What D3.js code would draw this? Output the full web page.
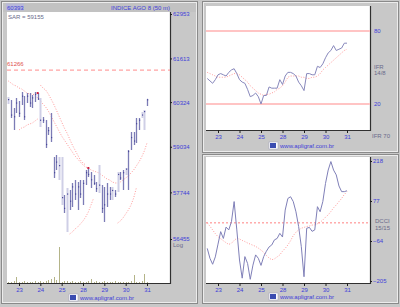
<!DOCTYPE html>
<html>
<head>
<meta charset="utf-8">
<script src="https://cdn.jsdelivr.net/npm/d3@7"></script>
<style>
body { margin: 0; background: #c8c8c8; }
svg { display: block; font-family: "Liberation Sans", Arial, sans-serif; }
</style>
</head>
<body>
<svg id="chart" width="400" height="307"></svg>
<script>
// one bar every 50 min, day labels sit on the first bar of each day
var days = ["23", "24", "25", "28", "29", "30", "31"];
var dayIndex = [4, 12, 20, 28, 36, 44, 52];

var highs = [60474, 60385, 60152, 60444, 60356, 60619, 60503, 60590, 60590, 60532, 60619, 60590, 60444, 59890, 59804, 59601, 60006, 58742, 58799, 58742,
	58742, 57671, 57867, 57811, 58007, 58091, 58035, 58091, 58091, 58373, 58430, 58317, 58232, 58035, 58515, 57951, 57895, 58007, 57895, 57895,
	57811, 58317, 58317, 58373, 58430, 58941, 59457, 59457, 59861, 59861, 60035, 60094, 60420];
var lows = [60268, 59861, 59515, 60006, 59890, 60239, 59804, 60297, 60181, 60152, 60327, 60385, 59601, 59717, 58998, 59371, 59170, 58148, 58373, 58091,
	57392, 57170, 56647, 57253, 57336, 57531, 57253, 57587, 57392, 57951, 58176, 57867, 57951, 57755, 57727, 57170, 56922, 57336, 57531, 57531,
	57615, 57755, 58091, 57811, 58232, 57811, 58941, 59084, 59141, 59515, 59861, 59515, 60210];
var closes = [60400, 59950, 59900, 60300, 60000, 60500, 59900, 60500, 60300, 60450, 60550, 60420, 59800, 59800, 59100, 59500, 59300, 58300, 58600, 58500,
	57600, 57300, 57700, 57500, 57900, 57700, 57900, 57700, 58000, 58300, 58250, 58100, 58000, 57850, 57950, 57300, 57400, 57700, 57700, 57800,
	57700, 58250, 58150, 58300, 58400, 58900, 59300, 59200, 59700, 59800, 59950, 60050, 60393];
var lightBar = [1, 0, 0, 0, 0, 0, 0, 0, 0, 0, 0, 0, 1, 0, 0, 0, 0, 0, 0, 1,
	1, 0, 1, 0, 0, 0, 0, 0, 0, 0, 0, 0, 0, 0, 1, 0, 0, 0, 0, 1,
	0, 1, 0, 0, 1, 0, 0, 0, 0, 0, 1, 1, 0];
var volumes = [1, 1, 2, 6, 1, 1, 2, 1, 1, 1, 2, 1, 2, 1, 2, 3, 4, 6, 3, 36,
	1, 2, 2, 1, 2, 1, 1, 2, 1, 1, 2, 4, 1, 2, 1, 1, 2, 1, 1, 1,
	2, 1, 1, 1, 1, 1, 2, 8, 1, 1, 2, 9, 1];

var avgLine = [60944, 60885, 60826, 60797, 60737, 60708, 60649, 60590, 60561, 60561, 60532, 60444, 60356, 60268, 60181, 60065, 59919, 59775, 59630, 59486,
	59342, 59227, 59113, 58998, 58884, 58771, 58685, 58600, 58515, 58458, 58430, 58373, 58345, 58317, 58289, 58232, 58176, 58120, 58091, 58035,
	58007, 58007, 58035, 58091, 58148, 58204, 58289, 58373, 58487, 58600, 58742, 58913, 59141];
var upperDots = [null, null, null, null, null, null, null, null, null, null, null, null, 60826, 60737, 60678, 60561, 60414, 60268, 60094, 59919,
	59746, 59573, 59429, 59256, 59084, 58941, 58799, 58657, 58572, 58515, null, null, null, null, null, null, null, null, null, null,
	null, null, null, null, null, null, null, null, null, null, null, null, null];
var lowerDots = [null, null, null, null, 59515, 59573, 59601, 59659, 59688, 59717, 59775, 59833, null, null, null, null, null, null, null, null,
	null, null, null, 56593, 56647, 56730, 56784, 56867, 56950, 57060, 57198, 57392, 57587, null, null, null, null, null, null, null,
	null, 56894, 56950, 57033, 57143, 57253, 57392, 57587, 57867, null, null, null, null];
var flipMarks = [11, 30];
var priceTicks = [62953, 61613, 60324, 59034, 57744, 56455];
var stopLevel = 61266;

var rsi = [41, 39, 37, 40, 44, 45, 44, 43, 46, 48, 49, 45, 40, 38, 37, 32, 26, 27, 29, 26,
	20, 27, 27, 34, 33, 33, 33, 40, 36, 43, 46, 46, 45, 43, 38, 35, 31, 45, 45, 44,
	44, 51, 50, 53, 58, 62, 64, 68, 64, 65, 66, 70, 70];
var rsiSignal = [46, 45, 44, 43, 42, 42, 42, 42, 43, 44, 45, 45, 44, 42, 40, 38, 35, 33, 31, 29,
	28, 27, 28, 28, 29, 30, 32, 33, 35, 38, 42, 43, 43, 43, 43, 42, 42, 41, 41, 42,
	42, 43, 45, 48, 50, 52, 54, 56, 58, 60, 62, 64, 65];
var rsiTicks = [80, 20];

var dcci = [-90, -125, -146, -120, -75, -31, -55, -15, -25, 4, 75, -25, -131, -195, -119, -143, -199, -149, -113, -125,
	-150, -119, -100, -85, -78, -60, -55, -37, -50, 45, 86, 92, 75, 39, -13, -84, -190, -19, -16, -30,
	-25, 57, 39, 75, 139, 186, 216, 186, 169, 130, 110, 110, 113];
var dcciSignal = [0, -12, -25, -38, -49, -56, -63, -70, -76, -72, -62, -54, -57, -62, -66, -71, -75, -79, -83, -89,
	-96, -104, -115, -124, -130, -127, -120, -113, -100, -90, -78, -63, -45, -33, -25, -19, -16, -13, -11, -8,
	-7, -3, 2, 10, 20, 28, 40, 53, 63, 75, 86, 100, 110];
var dcciTicks = [218, 77, -64, -205];

var svg = d3.select("#chart");
var blue = "#4040d8", grey = "#6a6a8a", pink = "#ff9a9a";

svg.append("rect").attr("width", 400).attr("height", 307).attr("fill", "#c8c8c8");

function panel(x, y, w, h) {
	svg.append("rect").attr("x", x + 0.5).attr("y", y + 0.5).attr("width", w).attr("height", h)
		.attr("fill", "none").attr("stroke", "#8a8a8a");
	svg.append("rect").attr("x", x + 1.5).attr("y", y + 1.5).attr("width", w - 2).attr("height", h - 2)
		.attr("fill", "none").attr("stroke", "#ececec");
}

function plotBox(x0, y0, x1, y1) {
	svg.append("rect").attr("x", x0).attr("y", y0).attr("width", x1 - x0).attr("height", y1 - y0).attr("fill", "#fff");
	svg.append("path").attr("d", "M" + (x1 + 0.5) + "," + y0 + "V" + (y1 + 0.5) + "H" + x0)
		.attr("fill", "none").attr("stroke", "#303030").attr("stroke-width", 1.2);
}

function footer(cx, y) {
	var g = svg.append("g").attr("transform", "translate(" + cx + "," + y + ")");
	g.append("rect").attr("x", -31).attr("y", -6).attr("width", 9).attr("height", 7).attr("fill", "#ffffff").attr("stroke", "#9a9ab8").attr("stroke-width", 0.5);
	g.append("rect").attr("x", -30).attr("y", -5).attr("width", 6).attr("height", 5).attr("fill", "#3a4cb0");
	g.append("text").attr("x", -20).attr("y", 0).attr("font-size", 6).attr("fill", blue).text("www.apligraf.com.br");
}

function dayAxis(x, yPos) {
	var axis = d3.axisBottom(x).tickValues(dayIndex).tickFormat(function(d, i) { return days[i]; }).tickSize(3).tickPadding(2);
	var g = svg.append("g").attr("transform", "translate(0," + yPos + ")").call(axis);
	g.select(".domain").remove();
	g.selectAll(".tick line").attr("stroke", "#202020");
	g.selectAll(".tick text").attr("fill", blue).attr("font-size", 6).attr("font-family", "Liberation Sans, Arial, sans-serif");
}

function valueAxis(y, ticks, xPos) {
	var axis = d3.axisRight(y).tickValues(ticks).tickFormat(d3.format("d")).tickSize(2).tickPadding(1);
	var g = svg.append("g").attr("transform", "translate(" + xPos + ",0)").call(axis);
	g.select(".domain").remove();
	g.selectAll(".tick line").attr("stroke", "#202020");
	g.selectAll(".tick text").attr("fill", blue).attr("font-size", 6).attr("font-family", "Liberation Sans, Arial, sans-serif");
}

function dotted(data, x, y, color) {
	var line = d3.line()
		.defined(function(d) { return d != null; })
		.x(function(d, i) { return x(i); })
		.y(function(d) { return y(d); });
	svg.append("path").datum(data).attr("d", line).attr("fill", "none")
		.attr("stroke", color).attr("stroke-width", 1).attr("stroke-dasharray", "1,1.6");
}

panel(1, 1, 196, 302);
panel(202, 1, 196, 151);
panel(202, 154, 196, 149);

// ---- price panel ----
svg.append("rect").attr("x", 3).attr("y", 3).attr("width", 193).attr("height", 9).attr("fill", "#c2c2c2");
svg.append("rect").attr("x", 6).attr("y", 3.5).attr("width", 18).attr("height", 7).attr("fill", "#b8b8d8");
svg.append("text").attr("x", 7).attr("y", 9.5).attr("font-size", 6).attr("fill", blue).text("60393");
svg.append("text").attr("x", 170).attr("y", 9.5).attr("font-size", 6).attr("fill", blue).attr("text-anchor", "end").text("INDICE AGO 8 (50 m)");

plotBox(7, 12, 170, 283);

var xL = d3.scaleLinear().domain([4, 52]).range([19, 147]);
var yP = d3.scaleLog().domain([56455, 62953]).range([239, 14]);
var yV = d3.scaleLinear().domain([0, 40]).range([283, 243]);

svg.append("line").attr("x1", 7).attr("x2", 170).attr("y1", yP(stopLevel)).attr("y2", yP(stopLevel))
	.attr("stroke", "#ff8c8c").attr("stroke-dasharray", "4,3");
svg.append("text").attr("x", 7).attr("y", yP(stopLevel) - 4).attr("font-size", 6).attr("fill", "#e05050").text(stopLevel);
svg.append("text").attr("x", 8).attr("y", 19).attr("font-size", 6).attr("fill", grey).text("SAR = 59155");

svg.append("g").selectAll("rect").data(volumes).enter().append("rect")
	.attr("x", function(d, i) { return Math.round(xL(i)); })
	.attr("y", function(d) { return yV(d); })
	.attr("width", 1)
	.attr("height", function(d) { return 283 - yV(d); })
	.attr("fill", "#b4b488");

dotted(avgLine, xL, yP, pink);
dotted(upperDots, xL, yP, pink);
dotted(lowerDots, xL, yP, pink);

var bars = svg.append("g");
highs.forEach(function(h, i) {
	var x = Math.round(xL(i)) + 0.5;
	var c = lightBar[i] ? "#cfcfe6" : "#7c7cb6";
	bars.append("line").attr("x1", x).attr("x2", x).attr("y1", yP(h)).attr("y2", yP(lows[i]))
		.attr("stroke", c).attr("stroke-width", lightBar[i] ? 2 : 1.3);
	bars.append("rect").attr("x", x - 0.5).attr("y", yP(closes[i]) - 0.5).attr("width", 1.2).attr("height", 1.2).attr("fill", "#4a4a9a");
});

svg.append("g").selectAll("rect").data(flipMarks).enter().append("rect")
	.attr("x", function(d) { return xL(d) - 1; })
	.attr("y", function(d) { return yP(highs[d]) - 1; })
	.attr("width", 2).attr("height", 2).attr("fill", "#d02040");

dayAxis(xL, 283);
valueAxis(yP, priceTicks, 170);
svg.append("text").attr("x", 173).attr("y", 247).attr("font-size", 6).attr("fill", grey).text("Log");
footer(100, 300);

// ---- IFR panel ----
plotBox(206, 6, 370, 130);
var xR = d3.scaleLinear().domain([4, 52]).range([218, 347]);
var yR = d3.scaleLinear().domain([0, 100]).range([128.3, 6.7]);

svg.append("g").selectAll("line").data(rsiTicks).enter().append("line")
	.attr("x1", 206).attr("x2", 370)
	.attr("y1", function(d) { return yR(d); }).attr("y2", function(d) { return yR(d); })
	.attr("stroke", "#ffc4c4").attr("stroke-width", 2);
dotted(rsiSignal, xR, yR, pink);
svg.append("path").datum(rsi)
	.attr("d", d3.line().x(function(d, i) { return xR(i); }).y(function(d) { return yR(d); }))
	.attr("fill", "none").attr("stroke", "#8888bc").attr("stroke-width", 1);

svg.append("g").selectAll("text").data(rsiTicks).enter().append("text")
	.attr("x", 374).attr("y", function(d) { return yR(d) + 2; })
	.attr("font-size", 6).attr("fill", blue).text(function(d) { return d; });
svg.append("text").attr("x", 374).attr("y", 69).attr("font-size", 6).attr("fill", grey).text("IFR");
svg.append("text").attr("x", 374).attr("y", 75).attr("font-size", 6).attr("fill", grey).text("14/8");
svg.append("text").attr("x", 372).attr("y", 138).attr("font-size", 6).attr("fill", grey).text("IFR 70");
dayAxis(xR, 130);
footer(300, 148);

// ---- DCCI panel ----
plotBox(206, 157, 370, 283);
var yD = d3.scaleLinear().domain([-205, 218]).range([281, 161]);

svg.append("line").attr("x1", 206).attr("x2", 370).attr("y1", yD(0)).attr("y2", yD(0))
	.attr("stroke", "#ff8080").attr("stroke-dasharray", "2,2");
dotted(dcciSignal, xR, yD, pink);
svg.append("path").datum(dcci)
	.attr("d", d3.line().x(function(d, i) { return xR(i); }).y(function(d) { return yD(d); }))
	.attr("fill", "none").attr("stroke", "#8080b8").attr("stroke-width", 1);

valueAxis(yD, dcciTicks, 370);
svg.append("text").attr("x", 375).attr("y", 223).attr("font-size", 6).attr("fill", grey).text("DCCI");
svg.append("text").attr("x", 375).attr("y", 230).attr("font-size", 6).attr("fill", grey).text("15/15");
dayAxis(xR, 283);
footer(300, 299);
</script>
</body>
</html>
